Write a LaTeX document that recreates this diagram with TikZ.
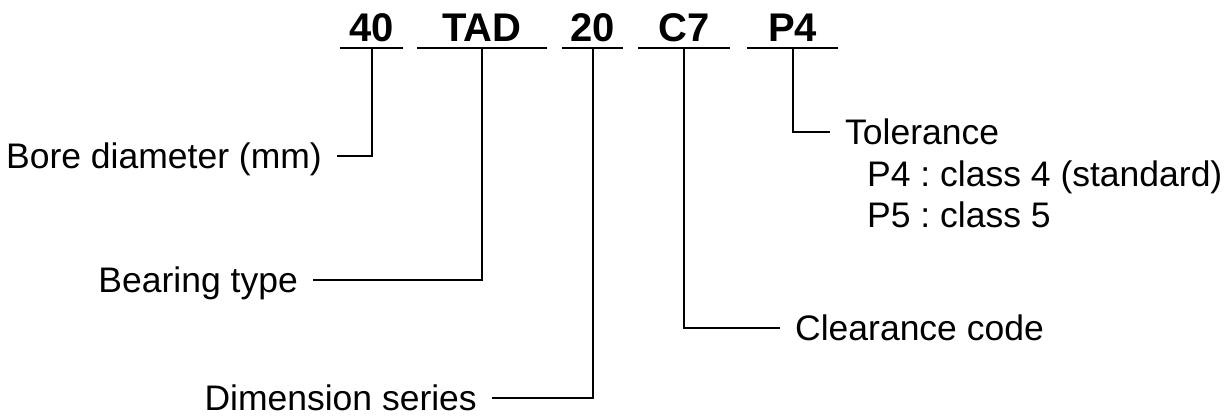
\documentclass[tikz,border=0pt]{standalone}
\usepackage{fontspec}
\setmainfont{Liberation Sans}
\frenchspacing

\begin{document}
\begin{tikzpicture}[
    x=1pt, y=-1pt,
    lead/.style={line width=2pt, black},
    code/.style={font=\fontsize{40}{48}\selectfont\bfseries, anchor=south,
        inner xsep=0pt, inner ysep=6pt, text height=29pt, text depth=0pt},
    lbl/.style={font=\fontsize{35.5}{42.5}\selectfont,
        inner xsep=15pt, inner ysep=0pt, text height=25.5pt, text depth=0pt},
    cls/.style={font=\fontsize{35.5}{42.5}\selectfont, anchor=base west,
        inner sep=0pt},
]
\useasboundingbox (0,0) rectangle (1224,419);

\def\ulY{48}

% Designation codes
\node[code, minimum width=63pt] (c40) at (371.5, \ulY) {40};
\node[code, minimum width=130pt] (cTAD) at (482, \ulY) {TAD};
\node[code, minimum width=61pt] (c20) at (592.5, \ulY) {20};
\node[code, minimum width=92pt] (cC7) at (684, \ulY) {C7};
\node[code, minimum width=91pt] (cP4) at (792.5, \ulY) {P4};

% Underlines
\foreach \c in {c40, cTAD, c20, cC7, cP4}
    \draw[lead] (\c.south west) -- (\c.south east);

% Left labels
\node[lbl, anchor=east] (bore) at (337, 156) {Bore diameter (mm)};
\node[lbl, anchor=east] (btype) at (313, 280) {Bearing type};
\node[lbl, anchor=east] (dser) at (492, 398) {Dimension series};

% Right labels
\node[lbl, anchor=west] (clr) at (780, 328) {Clearance code};
\node[lbl, anchor=west] (tol) at (830, 132) {Tolerance};
\node[cls] (tolP4) at (867, 187) {P4 : class 4 (standard)};
\node[cls] (tolP5) at (867, 228) {P5 : class 5};

% Leaders
\draw[lead] (c40.south) |- (bore.east);
\draw[lead] (cTAD.south) |- (btype.east);
\draw[lead] (c20.south) |- (dser.east);
\draw[lead] (cC7.south) |- (clr.west);
\draw[lead] (cP4.south) |- (tol.west);

\end{tikzpicture}
\end{document}
